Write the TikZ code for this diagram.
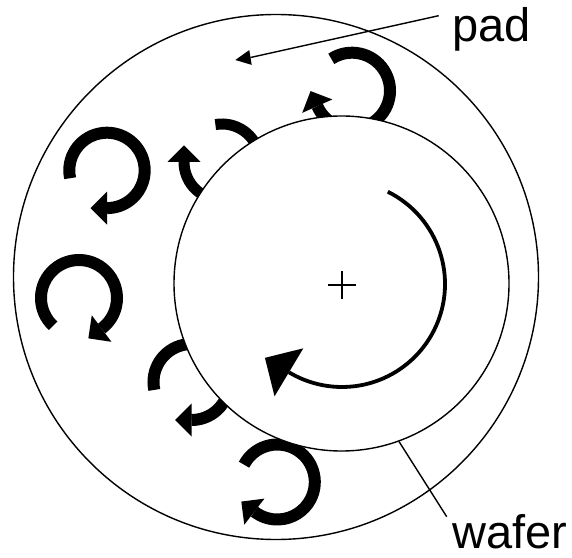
\documentclass[tikz,border=0pt]{standalone}
\usepackage{fontspec}
\setmainfont{Liberation Sans}
\usetikzlibrary{calc}
\newcommand{\curl}[7]{% cx cy r start end width head size
  \begin{scope}[shift={(#1,557-#2)}]
    \draw[line width=#6pt] (#4:#3) arc[start angle=#4,end angle=#5,radius=#3];
    \fill[shift={(#5:#3)},rotate=#5-90] (0,-#7) -- (#7,0) -- (0,#7) -- cycle;
  \end{scope}}
\tikzset{
  ring/.style={circle,draw=black,line width=1.4pt,inner sep=0pt},
  lead/.style={line width=1.4pt},
  lab/.style={inner sep=0pt,anchor=base west,font=\fontsize{47}{50}\selectfont}
}
\begin{document}
\begin{tikzpicture}[x=1pt,y=1pt]
\useasboundingbox (0,0) rectangle (572,557);
\node[ring,minimum size=525pt] (padc) at (276,557-277) {};
\curl{107}{170.4}{37.7}{192}{-90}{12}{16.5}
\curl{79}{298}{38}{227}{-53.5}{12}{16.5}
\curl{222}{162}{38}{100}{-180}{11}{16.5}
\curl{352}{90.7}{38}{123}{-156}{12}{16.5}
\curl{191.5}{382}{38}{192}{-90}{12}{16.5}
\curl{277.3}{482}{37.5}{152.5}{-127.7}{12}{16.5}
\node[ring,fill=white,minimum size=335pt] (waferc) at (341.5,557-283.5) {};
\coordinate (plus) at (342,557-285);
\draw[line width=1.2pt] ([xshift=-14pt]plus) -- ([xshift=14pt]plus);
\draw[line width=1.2pt] ([yshift=-14pt]plus) -- ([yshift=14pt]plus);
\begin{scope}[shift={(342,557-284)}]
  \draw[line width=3.8pt] (63.6:103) arc[start angle=63.6,end angle=-121,radius=103];
  \fill[shift={(-121:103)},rotate=-211] (0,-28) -- (28,0) -- (0,28) -- cycle;
\end{scope}
\node[lab] (padl) at (452,557-42) {pad};
\node[lab] (waferl) at (452,557-548) {wafer};
\coordinate (padend) at (438.7,557-15.7);
\coordinate (padtip) at (235.3,557-60);
\coordinate (padbase) at (250.5,557-57.5);
\draw[lead] (padend) -- (padbase);
\fill ($(padbase)!7.5pt!90:(padtip)$) -- (padtip) -- ($(padbase)!7.5pt!-90:(padtip)$) -- cycle;
\coordinate (waferend) at (446.7,557-516.7);
\draw[lead] (waferc.-70.8) -- (waferend);
\end{tikzpicture}
\end{document}
